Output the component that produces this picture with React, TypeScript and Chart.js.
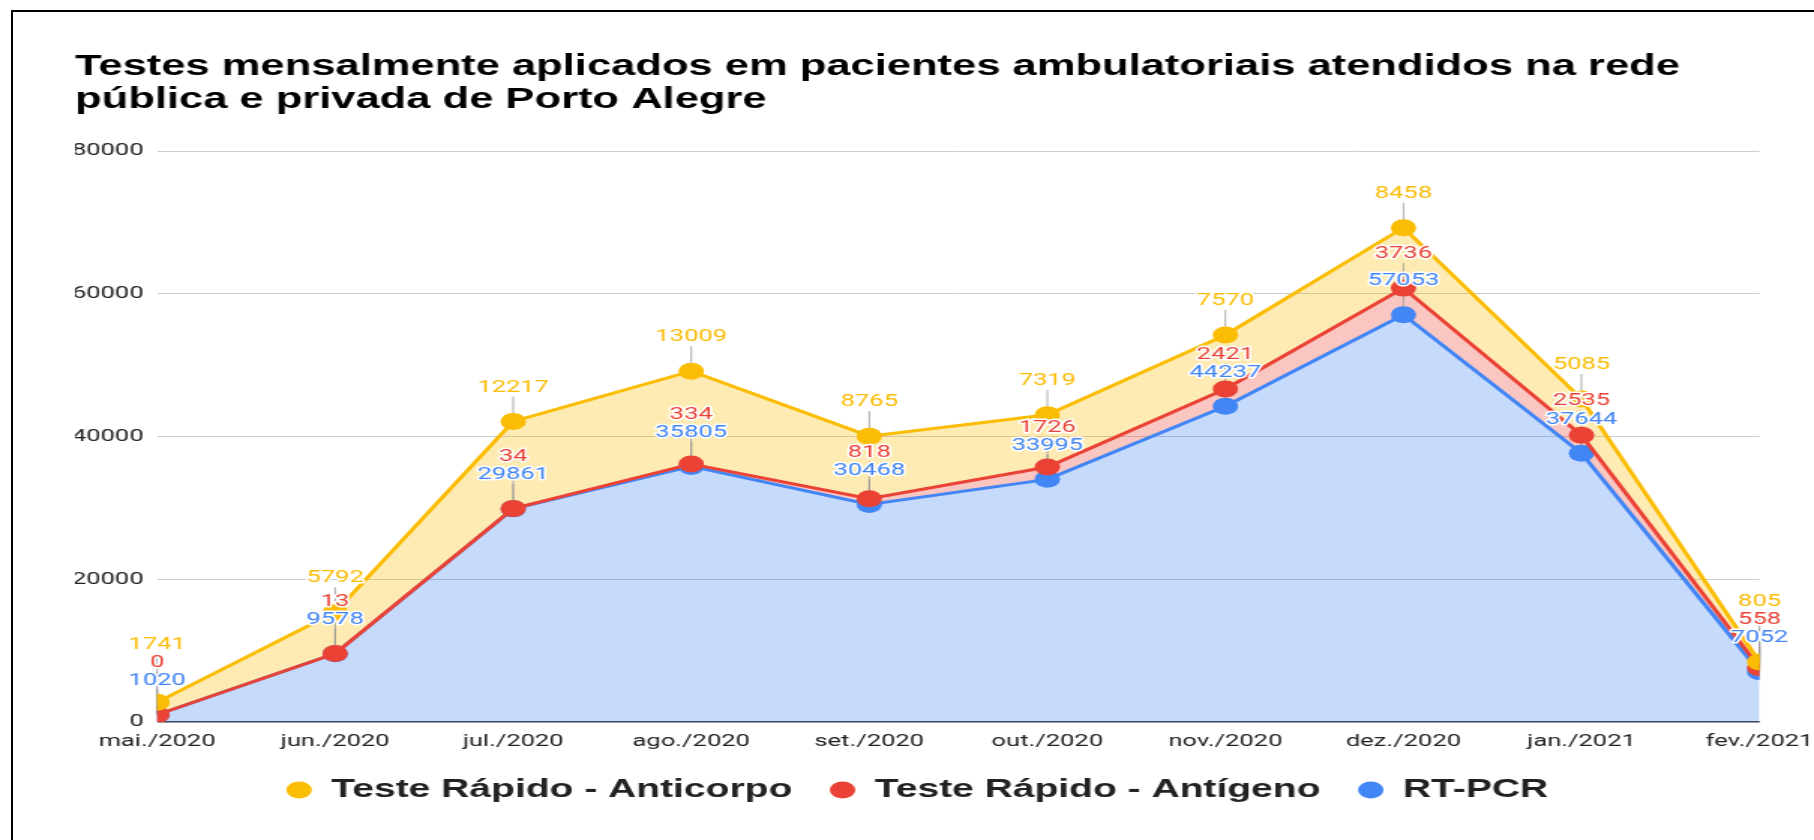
import React, { useEffect, useRef } from 'react';
import { Chart, registerables } from 'chart.js';

Chart.register(...registerables);

// ---- data ----
const months = ['mai./2020', 'jun./2020', 'jul./2020', 'ago./2020', 'set./2020', 'out./2020', 'nov./2020', 'dez./2020', 'jan./2021', 'fev./2021'];
const anticorpo = [1741, 5792, 12217, 13009, 8765, 7319, 7570, 8458, 5085, 805];
const antigeno = [0, 13, 34, 334, 818, 1726, 2421, 3736, 2535, 558];
const rtpcr = [1020, 9578, 29861, 35805, 30468, 33995, 44237, 57053, 37644, 7052];
const yTicks = [0, 20000, 40000, 60000, 80000];
const seriesNames = ['Teste Rápido - Anticorpo', 'Teste Rápido - Antígeno', 'RT-PCR'];
const titleLines = [
  'Testes mensalmente aplicados em pacientes ambulatoriais atendidos na rede',
  'pública e privada de Porto Alegre',
];

// ---- styles ----
const STRETCH = 1.5;
const PAGE_W = 1814;
const PAGE_H = 840;
const INNER_W = Math.round(PAGE_W / STRETCH);
const colors = ['#fbbc04', '#ea4335', '#4285f4'];
const fills = ['rgba(251,188,4,0.3)', 'rgba(234,67,53,0.3)', 'rgba(66,133,244,0.3)'];
const LABEL_OFFSET = 34;
const LABEL_GAP = 18;

export default function App() {
  const ref = useRef<HTMLCanvasElement>(null);

  useEffect(() => {
    const canvas = ref.current;
    if (!canvas) return;

    const redTop = rtpcr.map((v, i) => v + antigeno[i]);
    const yellowTop = redTop.map((v, i) => v + anticorpo[i]);
    const plotted = [yellowTop, redTop, rtpcr];
    const rawSeries = [anticorpo, antigeno, rtpcr];

    const computeLabels = (chart: any) => {
      const items: any[] = [];
      const stackOrder = [2, 1, 0];
      for (let i = 0; i < months.length; i++) {
        let prev = Infinity;
        for (const ds of stackOrder) {
          const pt = chart.getDatasetMeta(ds).data[i];
          let y = pt.y - LABEL_OFFSET;
          if (y > prev - LABEL_GAP) y = prev - LABEL_GAP;
          prev = y;
          items.push({ x: pt.x, y, py: pt.y, text: String(rawSeries[ds][i]), color: colors[ds] });
        }
      }
      return items;
    };

    const labelPlugin = {
      id: 'annotLabels',
      beforeDatasetsDraw(chart: any) {
        const ctx = chart.ctx;
        const items = computeLabels(chart);
        ctx.save();
        ctx.strokeStyle = 'rgba(150,150,150,0.8)';
        ctx.lineWidth = 1;
        items.forEach((it) => {
          if (it.py > it.y + 9) {
            ctx.beginPath();
            ctx.moveTo(it.x, it.py);
            ctx.lineTo(it.x, it.y + 9);
            ctx.stroke();
          }
        });
        ctx.restore();
      },
      afterDatasetsDraw(chart: any) {
        const ctx = chart.ctx;
        const items = computeLabels(chart);
        ctx.save();
        ctx.font = '17px Roboto';
        ctx.textAlign = 'center';
        ctx.textBaseline = 'middle';
        ctx.lineJoin = 'round';
        items.forEach((it) => {
          ctx.strokeStyle = '#ffffff';
          ctx.lineWidth = 3;
          ctx.strokeText(it.text, it.x, it.y);
          ctx.fillStyle = it.color;
          ctx.fillText(it.text, it.x, it.y);
        });
        ctx.restore();
      },
    };

    const chart = new Chart(canvas, {
      type: 'line',
      data: {
        labels: months,
        datasets: plotted.map((d, k) => ({
          label: seriesNames[k],
          data: d,
          borderColor: colors[k],
          backgroundColor: fills[k],
          pointBackgroundColor: colors[k],
          pointBorderColor: colors[k],
          pointBorderWidth: 0,
          pointRadius: 8.5,
          pointHoverRadius: 8.5,
          borderWidth: 3,
          tension: 0,
          fill: k === 2 ? 'origin' : '+1',
          clip: 0,
        })),
      },
      options: {
        responsive: false,
        animation: false,
        devicePixelRatio: 1,
        events: [],
        layout: { padding: { left: 50, right: 36.3, top: 0, bottom: 27 } },
        scales: {
          x: {
            grid: { display: false, drawTicks: false },
            border: { display: false },
            afterFit: (s: any) => {
              s.height = 30;
              s.paddingLeft = 0;
              s.paddingRight = 0;
            },
            ticks: {
              font: { family: 'Roboto', size: 17 },
              color: '#222222',
              padding: 9.6,
              autoSkip: false,
              maxRotation: 0,
            },
          },
          y: {
            min: 0,
            max: 80000,
            afterBuildTicks: (s: any) => {
              s.ticks = yTicks.map((v) => ({ value: v }));
            },
            afterFit: (s: any) => {
              s.width = 54.7;
            },
            grid: {
              drawTicks: false,
              color: (c: any) => (c.tick && c.tick.value === 0 ? '#333333' : '#cccccc'),
              lineWidth: (c: any) => (c.tick && c.tick.value === 0 ? 1.5 : 1),
            },
            border: { display: false },
            ticks: {
              font: { family: 'Roboto', size: 17 },
              color: '#222222',
              padding: 9,
              callback: (v: any) => String(v),
            },
          },
        },
        plugins: {
          title: {
            display: true,
            text: titleLines,
            align: 'start',
            color: '#000000',
            font: { family: "'Liberation Sans', Arial, sans-serif", weight: 'bold', size: 29, lineHeight: '33px' },
            padding: { top: 50.5, bottom: 34.5 },
          },
          legend: {
            position: 'bottom',
            labels: {
              usePointStyle: true,
              pointStyle: 'circle',
              boxHeight: 12,
              pointStyleWidth: 17,
              padding: 25,
              color: '#222222',
              font: { family: "'Liberation Sans', Arial, sans-serif", weight: 'bold', size: 26 },
            },
          },
          tooltip: { enabled: false },
          filler: { drawTime: 'beforeDatasetsDraw' },
        },
      } as any,
      plugins: [labelPlugin],
    });

    return () => {
      chart.destroy();
    };
  }, []);

  return (
    <div
      style={{
        position: 'absolute',
        left: 0,
        top: 0,
        width: PAGE_W,
        height: PAGE_H,
        overflow: 'hidden',
        background: '#ffffff',
      }}
    >
      <canvas
        ref={ref}
        width={INNER_W}
        height={PAGE_H}
        style={{
          position: 'absolute',
          left: 0,
          top: 0,
          width: `${INNER_W * STRETCH}px`,
          height: `${PAGE_H}px`,
          display: 'block',
        }}
      />
      <div
        style={{
          position: 'absolute',
          left: 11,
          top: 10,
          width: PAGE_W + 20,
          height: PAGE_H + 20,
          borderLeft: '2px solid #000',
          borderTop: '2px solid #000',
          pointerEvents: 'none',
        }}
      />
    </div>
  );
}
